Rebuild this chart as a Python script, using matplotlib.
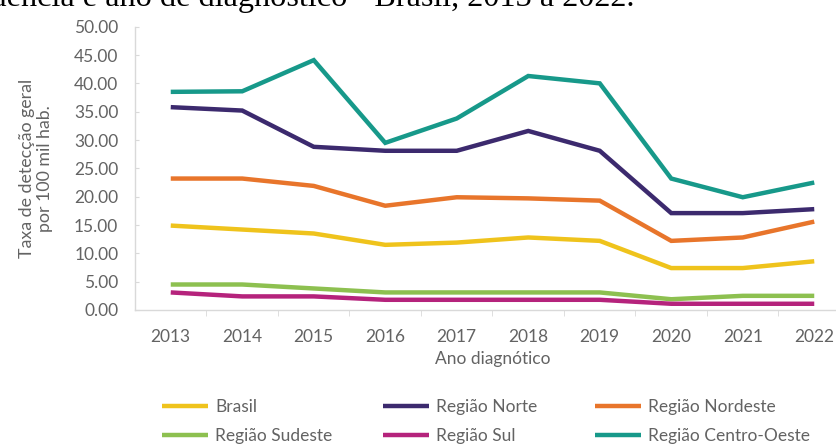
import matplotlib
matplotlib.use("Agg")
import matplotlib.pyplot as plt

# Detection rate per 100k inhabitants, by region and year of diagnosis
anos = ["2013", "2014", "2015", "2016", "2017", "2018", "2019", "2020", "2021", "2022"]

brasil = [14.9, 14.2, 13.5, 11.5, 11.9, 12.8, 12.2, 7.4, 7.4, 8.6]
norte = [35.8, 35.2, 28.8, 28.1, 28.1, 31.6, 28.1, 17.1, 17.1, 17.8]
nordeste = [23.2, 23.2, 21.9, 18.4, 19.9, 19.7, 19.3, 12.2, 12.8, 15.6]
sudeste = [4.5, 4.5, 3.8, 3.1, 3.1, 3.1, 3.1, 1.9, 2.5, 2.5]
sul = [3.1, 2.4, 2.4, 1.8, 1.8, 1.8, 1.8, 1.1, 1.1, 1.1]
centro_oeste = [38.5, 38.6, 44.1, 29.5, 33.8, 41.3, 40.0, 23.2, 19.9, 22.5]

series = [
    ("Brasil", brasil, "#efc31c"),
    ("Região Norte", norte, "#3c2a6e"),
    ("Região Nordeste", nordeste, "#e8752b"),
    ("Região Sudeste", sudeste, "#8dc050"),
    ("Região Sul", sul, "#b5237c"),
    ("Região Centro-Oeste", centro_oeste, "#17998a"),
]

yticks = [0, 5, 10, 15, 20, 25, 30, 35, 40, 45, 50]

TXT = "#636363"
AXC = "#d9d9d9"
FONT = ["Lato", "DejaVu Sans"]
plt.rcParams["font.family"] = FONT

W, H = 837, 447
fig = plt.figure(figsize=(W / 100, H / 100), dpi=100)
fig.patch.set_facecolor("white")

# plot area in pixels: left 135, top 26.7, bottom 310, one category = 71.5 px
left, top, bottom, cat_w = 135, 26.7, 310, 71.5
ax_w = cat_w * len(anos)
ax = fig.add_axes([left / W, (H - bottom) / H, ax_w / W, (bottom - top) / H])
ax.set_facecolor("white")

x = list(range(len(anos)))
handles = {}
for name, vals, col in series:
    (ln,) = ax.plot(x, vals, color=col, lw=3.2, solid_capstyle="butt",
                    solid_joinstyle="miter", label=name)
    handles[name] = ln

ax.set_xlim(-0.5, len(anos) - 0.5)
ax.set_ylim(0, 50)
ax.set_yticks(yticks)
ax.set_yticklabels([f"{v:.2f}" for v in yticks])
ax.set_xticks(x)
ax.set_xticklabels(anos)
ax.set_xticks([i + 0.5 for i in x[:-1]], minor=True)

for s in ["top", "right"]:
    ax.spines[s].set_visible(False)
for s in ["left", "bottom"]:
    ax.spines[s].set_color(AXC)
    ax.spines[s].set_linewidth(1.0)

ax.tick_params(axis="y", direction="in", length=3, color=AXC, pad=12,
               labelsize=12.5, labelcolor=TXT)
ax.tick_params(axis="x", which="major", length=0, pad=14,
               labelsize=12.5, labelcolor=TXT)
ax.tick_params(axis="x", which="minor", direction="out", length=4, color=AXC)

ax.set_xlabel("Ano diagnótico", fontsize=12.5, color=TXT)
ax.xaxis.label.set_va("center")
ax.xaxis.set_label_coords((492.5 - left) / ax_w, -(359 - bottom) / (bottom - top))

ax.set_ylabel("Taxa de detecção geral\npor 100 mil hab.", fontsize=12.8,
              color=TXT, linespacing=1.1)
ax.yaxis.label.set_va("center")
ax.yaxis.set_label_coords((36 - left) / ax_w, 0.5)

# title line running off the top edge
fig.text(635 / W, 1 - 6 / H, "residência e ano de diagnóstico - Brasil, 2013 a 2022.",
         ha="right", va="baseline", fontsize=23.2,
         family=["Liberation Serif", "DejaVu Serif"], color="black")

# legend: three columns of two entries
cols = [
    (162, ["Brasil", "Região Sudeste"]),
    (383, ["Região Norte", "Região Sul"]),
    (595, ["Região Nordeste", "Região Centro-Oeste"]),
]
for xpx, names in cols:
    leg = fig.legend([handles[n] for n in names], names,
                     loc="center left", bbox_to_anchor=(xpx / W, 1 - 421.5 / H),
                     frameon=False, fontsize=12.5, labelcolor=TXT,
                     handlelength=2.65, handletextpad=0.4, borderpad=0,
                     borderaxespad=0, labelspacing=0.75)
    for h in leg.legend_handles:
        h.set_linewidth(3.2)

fig.savefig("out.png", dpi=100, facecolor="white")
